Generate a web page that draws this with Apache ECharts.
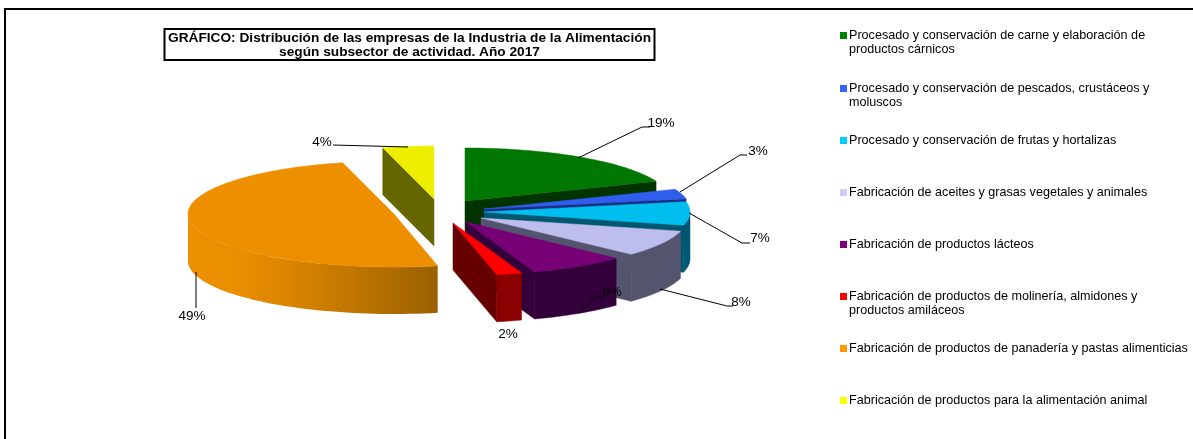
<!DOCTYPE html>
<html><head><meta charset="utf-8">
<style>html,body{margin:0;padding:0;background:#fff}#c{width:1193px;height:439px}</style>
<script src="https://cdn.jsdelivr.net/npm/echarts@6/dist/echarts.min.js"></script>
</head><body><div id="c"></div>
<script>
const categories = [
  "Procesado y conservación de carne y elaboración de\nproductos cárnicos",
  "Procesado y conservación de pescados, crustáceos y\nmoluscos",
  "Procesado y conservación de frutas y hortalizas",
  "Fabricación de aceites y grasas vegetales y animales",
  "Fabricación de productos lácteos",
  "Fabricación de productos de molinería, almidones y\nproductos amiláceos",
  "Fabricación de productos de panadería y pastas alimenticias",
  "Fabricación de productos para la alimentación animal"
];
// share of companies (%), labels show them rounded
const shares = [18.9, 3.0, 7.1, 8.0, 7.6, 2.0, 49.4, 4.0];

const legendColors = ["#008000","#3366FF","#00CCFF","#CCCCFF","#800080","#FF0000","#FF9900","#FFFF00"];
const topColors    = ["#007700","#2F5EEE","#00BEEE","#BEBEEE","#770077","#FF0000","#EE8F00","#EEEE00"];
const sideColors   = ["#003300","#1A2E80","#005870","#54546E","#33003B","#660000","#8F5A00","#666600"];
const rimColors    = [null,null,"#005870","#54546E","#33003B","#8B0000",null,null];

// 3D pie projection
const pie = {cx: 462, cy: 210, a: 206, b: 53, depth: 47};
// explosion of each slice from the pie centre
const pull = [[3,-9],[22,-1],[22,2],[19,8],[4,12],[-9,13],[-68,4],[-28,-11]];
// label layout: text centre, leader line
const labelLayout = [
  {at:[661,123], line:[[578,158],[642,127],[650,127]]},
  {at:[758,151], line:[[680,192],[740,155],[747,155]]},
  {at:[760,238], line:[[689,213],[742,243],[750,243]]},
  {at:[741,302], line:[[660,289],[727,306],[733,306]]},
  {at:[612,292], line:[[580,312],[595,297],[602,297]]},
  {at:[508,334], line:null},
  {at:[192,316], line:[[196,272],[196,308]]},
  {at:[322,142], line:[[333,145],[408,147]]}
];

const total = shares.reduce((s,v)=>s+v,0);
const DEG = Math.PI/180;
function sliceAngles(i){
  let s = 0;
  for (let k=0;k<i;k++) s += shares[k];
  return [s/total*360, (s+shares[i])/total*360];
}
function rimPoint(ox,oy,deg,dz){
  return [ox + pie.a*Math.sin(deg*DEG), oy - pie.b*Math.cos(deg*DEG) + dz];
}
function arc(ox,oy,from,to,dz){
  const pts = [], n = Math.max(2, Math.ceil(Math.abs(to-from)/2));
  for (let k=0;k<=n;k++) pts.push(rimPoint(ox,oy,from+(to-from)*k/n,dz));
  return pts;
}
function poly(points,fill){
  const solid = typeof fill === 'string';
  return {type:'polygon', shape:{points}, style:{fill, stroke: solid ? fill : null, lineWidth: solid ? 0.5 : 0}};
}
function renderSlice(params, api){
  const i = params.dataIndex;
  api.value(0);
  const [s,e] = sliceAngles(i);
  const ox = pie.cx + pull[i][0], oy = pie.cy + pull[i][1], d = pie.depth;
  const kids = [];
  // radial wall facing the viewer
  const edge = e <= 180 ? e : (s >= 180 ? s : null);
  if (edge !== null){
    const p = rimPoint(ox,oy,edge,0);
    kids.push(poly([[ox,oy],p,[p[0],p[1]+d],[ox,oy+d]], sideColors[i]));
  }
  // outer wall: the lower half of the ellipse
  const from = Math.max(s,90), to = Math.min(e,270);
  if (to > from){
    const upper = arc(ox,oy,from,to,0), lower = arc(ox,oy,to,from,d);
    const fill = i === 6 ? {
      type:'linear',x:1,y:0,x2:0,y2:0,
      colorStops:[{offset:0,color:'#9A6000'},{offset:.3,color:'#BC7400'},{offset:.62,color:'#DD8600'},{offset:.8,color:'#EA8E00'},{offset:1,color:'#EC8F00'}]
    } : rimColors[i];
    kids.push(poly(upper.concat(lower), fill));
  }
  // top face
  kids.push(poly([[ox,oy]].concat(arc(ox,oy,s,e,0)), topColors[i]));
  return {type:'group', children:kids};
}
function renderLabel(params, api){
  const i = params.dataIndex, l = labelLayout[i];
  const kids = [];
  if (l.line) kids.push({type:'polyline', shape:{points:l.line}, style:{stroke:'#000',lineWidth:1,fill:null}});
  kids.push({type:'text', x:l.at[0], y:l.at[1], style:{
    text: Math.round(api.value(0))+'%', fill:'#000', align:'center', verticalAlign:'middle',
    font:'13.5px "Liberation Sans", Arial, sans-serif'}});
  return {type:'group', children:kids};
}
const sliceData = shares.map((v,i)=>({name:categories[i], value:v}));

const legendGraphics = [];
const legendRows = [35.5,88.5,140.5,192.5,244.5,296.5,348.5,400.5];
categories.forEach((c,i)=>{
  legendGraphics.push({type:'rect', shape:{x:840,y:legendRows[i]-3.5,width:7,height:7}, style:{fill:legendColors[i]}});
  legendGraphics.push({type:'text', x:849, y:legendRows[i]-7, style:{
    text:c, fill:'#000', align:'left', verticalAlign:'top', lineHeight:14,
    font:'12.6px "Liberation Sans", Arial, sans-serif'}});
});

const chart = echarts.init(document.getElementById('c'), null, {renderer:'canvas'});
chart.setOption({
  animation:false,
  backgroundColor:'#fff',
  title:{
    text:"GRÁFICO: Distribución de las empresas de la Industria de la Alimentación\nsegún subsector de actividad. Año 2017",
    left:410, top:29, padding:[2,4,1,4],
    borderColor:'#000', borderWidth:2, backgroundColor:'#fff',
    textAlign:'center',
    textStyle:{color:'#000',fontFamily:'"Liberation Sans", Arial, sans-serif',fontWeight:'bold',fontSize:13.7,lineHeight:14}
  },
  graphic:[{type:'rect', silent:true, z:-1, shape:{x:5,y:9,width:1300,height:500}, style:{fill:'#fff',stroke:'#000',lineWidth:2}}].concat(legendGraphics),
  series:[
    {type:'custom', coordinateSystem:'none', renderItem:renderSlice, data:sliceData, silent:true},
    {type:'custom', coordinateSystem:'none', renderItem:renderLabel, data:sliceData, silent:true, z:5}
  ]
});
chart.setOption({title:{left:405.5}});
</script></body></html>
